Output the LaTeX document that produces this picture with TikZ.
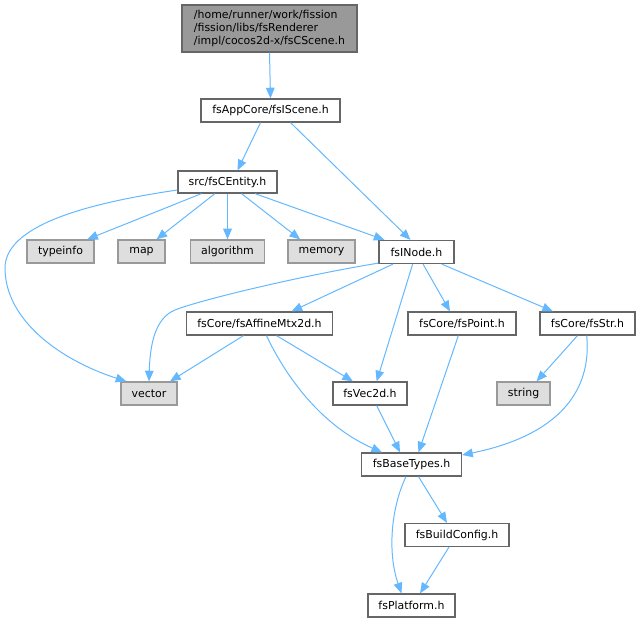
\documentclass[tikz,border=0pt]{standalone}
\usepackage{fontspec}
\setmainfont{DejaVu Sans}
\usetikzlibrary{arrows.meta}
\definecolor{edgecol}{HTML}{63B8FF}
\definecolor{nodeborder}{HTML}{666666}
\definecolor{extborder}{HTML}{999999}
\definecolor{extfill}{HTML}{DEDEDE}
\definecolor{topfill}{HTML}{999999}
\begin{document}
\begin{tikzpicture}[x=0.75pt,y=-0.75pt,
  box/.style={draw=nodeborder,fill=white,line width=0.9pt,rectangle,minimum height=17.25pt,inner sep=0pt,font=\fontsize{8.2}{9.75}\selectfont},
  ext/.style={box,draw=extborder,fill=extfill},
  topbox/.style={box,fill=topfill,align=left},
  edge/.style={draw=edgecol,line width=0.75pt,-{Triangle[length=8pt,width=6.5pt]}}
]
\useasboundingbox (0,0) rectangle (640,623);

\node[topbox,minimum width=131.25pt,minimum height=35.25pt] (top) at (269.5,28.5)
  {/home/runner/work/fission\\/fission/libs/fsRenderer\\/impl/cocos2d-x/fsCScene.h};
\node[box,minimum width=104.25pt] (scene) at (270.5,110.5) {fsAppCore/fsIScene.h};
\node[box,minimum width=74.25pt,minimum height=16.5pt] (entity) at (227.5,182) {src/fsCEntity.h};
\node[ext,minimum width=50.25pt] (typeinfo) at (60.5,251.5) {typeinfo};
\node[ext,minimum width=35.25pt] (map) at (141.5,251.5) {map};
\node[ext,minimum width=55.5pt] (algorithm) at (227.5,251.5) {algorithm};
\node[ext,minimum width=50.25pt] (memory) at (321.5,251.5) {memory};
\node[box,minimum width=56.25pt] (inode) at (416.5,252) {fsINode.h};
\node[box,minimum width=109.5pt] (affine) at (259.5,323.5) {fsCore/fsAffineMtx2d.h};
\node[box,minimum width=81pt] (point) at (462,323.5) {fsCore/fsPoint.h};
\node[box,minimum width=71.25pt] (str) at (587.5,323.5) {fsCore/fsStr.h};
\node[ext,minimum width=42pt] (vector) at (149,393.5) {vector};
\node[box,minimum width=55.5pt] (vec2d) at (370,393.5) {fsVec2d.h};
\node[ext,minimum width=39.75pt] (string) at (523.5,393.5) {string};
\node[box,minimum width=75pt] (basetypes) at (411.5,464.5) {fsBaseTypes.h};
\node[box,minimum width=78pt] (buildconfig) at (457,535) {fsBuildConfig.h};
\node[box,minimum width=65.25pt] (platform) at (411.5,605.5) {fsPlatform.h};

\draw[edge] (top.south) -- (scene.north);
\draw[edge] ([xshift=-7.5pt]scene.south) -- ([xshift=7.5pt]entity.north);
\draw[edge] ([xshift=15pt]scene.south) -- ([xshift=-4.5pt]inode.north);

\draw[edge] ([yshift=-6pt]entity.west) .. controls (110,200) and (5,220) .. (5,268)
  .. controls (5,320) and (60,360) .. ([xshift=4.5pt]vector.north west);
\draw[edge] ([xshift=-19.5pt]entity.south) -- ([xshift=20pt]typeinfo.north);
\draw[edge] ([xshift=-9.4pt]entity.south) -- ([xshift=11.25pt]map.north);
\draw[edge] (entity.south) -- (algorithm.north);
\draw[edge] ([xshift=10.5pt]entity.south) -- ([xshift=-16pt]memory.north);
\draw[edge] ([xshift=20.6pt]entity.south) -- ([xshift=-24pt]inode.north);

\draw[edge] ([yshift=0.75pt]inode.south west) .. controls (300,276) and (200,300) .. (175,310)
  .. controls (155,318) and (150,345) .. (vector.north);
\draw[edge] ([xshift=-17.6pt]inode.south) -- ([xshift=24pt]affine.north);
\draw[edge] ([xshift=-2.9pt]inode.south) -- ([xshift=5pt]vec2d.north);
\draw[edge] ([xshift=4.9pt]inode.south) -- ([xshift=-9pt]point.north);
\draw[edge] ([xshift=18.9pt]inode.south) -- ([xshift=-25.9pt]str.north);

\draw[edge] ([xshift=-12pt]affine.south) -- ([xshift=15.75pt]vector.north);
\draw[edge] ([xshift=12.75pt]affine.south) -- ([xshift=-12.75pt]vec2d.north);
\draw[edge] ([xshift=5.25pt]affine.south) .. controls (285,375) and (320,425) .. ([xshift=-22.1pt]basetypes.north);

\draw[edge] ([xshift=-2.75pt]point.south) -- ([xshift=5.25pt]basetypes.north);
\draw[edge] ([xshift=-7.5pt]str.south) -- ([xshift=9.75pt]string.north);
\draw[edge] ([xshift=-0.6pt]str.south) .. controls (592,390) and (560,435) .. ([yshift=7.1pt]basetypes.east);
\draw[edge] ([xshift=5pt]vec2d.south) -- ([xshift=-8.6pt]basetypes.north);

\draw[edge] ([xshift=5.25pt]basetypes.south) -- ([xshift=-7.5pt]buildconfig.north);
\draw[edge] ([xshift=-4.1pt]basetypes.south) .. controls (390,510) and (388,555) .. ([xshift=-7.5pt]platform.north);
\draw[edge] ([xshift=-6pt]buildconfig.south) -- ([xshift=6.4pt]platform.north);
\end{tikzpicture}
\end{document}
